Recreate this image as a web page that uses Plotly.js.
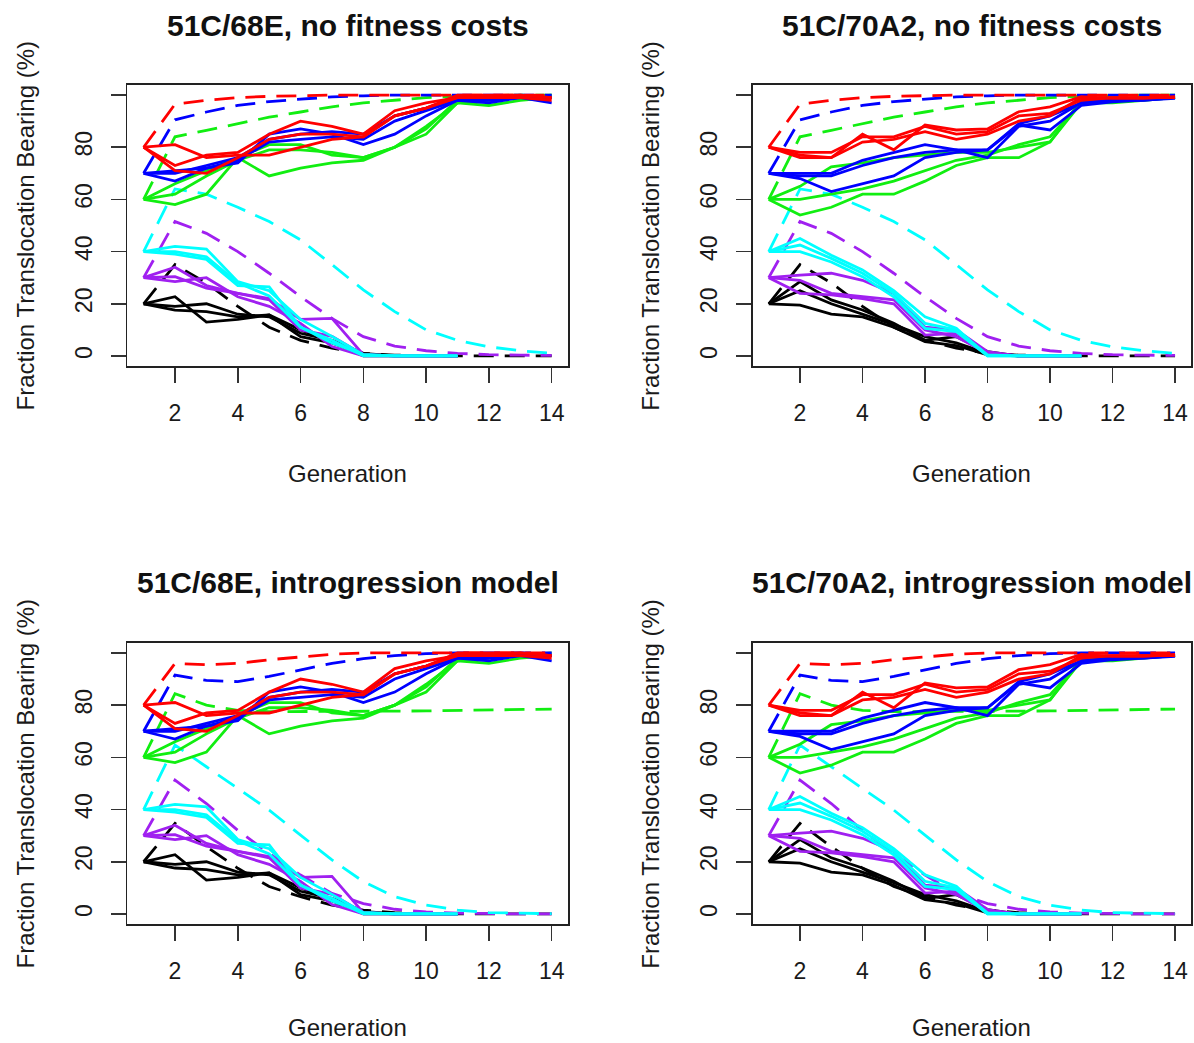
<!DOCTYPE html>
<html>
<head>
<meta charset="utf-8">
<script src="https://cdn.plot.ly/plotly-3.0.1.min.js"></script>
<style>html,body{margin:0;padding:0;background:#fff;}#chart{width:1194px;height:1043px;}</style>
</head>
<body>
<div id="chart"></div>
<script>
// ---------------- DATA ----------------
const generations = [1,2,3,4,5,6,7,8,9,10,11,12,13,14];
const genShort = [1,2,3,4,5,6,7,8,9,10,11];
const xTicks = [2,4,6,8,10,12,14];
const yTicks = [0,20,40,60,80,100];
const yTickLabels = ["0","20","40","60","80",""];
const panelTitles = ["51C/68E, no fitness costs","51C/70A2, no fitness costs","51C/68E, introgression model","51C/70A2, introgression model"];
const xLabel = "Generation";
const yLabel = "Fraction Translocation Bearing (%)";
const colorNames = ["black","purple","cyan","green","blue","red"];
const colorValues = {black:"#000000",purple:"#A020F0",cyan:"#00FFFF",green:"#11EE11",blue:"#0000FF",red:"#FF0000"};

// Experimental replicates, 51C/68E (upper series: gens 1-14; lower series: gens 1-11)
const e68_red = [
  [80,81,76,77,77,80,83,84,92,95,99,99,99,98],
  [80,73,77,78,85,90,88,85,94,97,99,99,100,99],
  [80,71,70,76,83,85,85,84,92,95,100,100,100,99]];
const e68_blue = [
  [70,67,72,74,85,87,85,81,85,92,98,97,99,97],
  [70,70,73,76,83,85,86,85,92,95,99,99,99,99],
  [70,71,72,75,82,83,84,83,90,94,98,98,99,99]];
const e68_green = [
  [60,58,62,76,69,72,74,75,80,85,97,96,98,99],
  [60,66,71,76,81,81,77,76,80,87,98,98,99,99],
  [60,62,69,75,79,79,78,76,80,88,97,98,99,100]];
const e68_cyan = [
  [40,42,41,28.5,25,14,7.5,0.5,0,0,0],
  [40,40,38,28,23,11,6,0,0,0,0],
  [40,39,37,27,26.5,11,5,0.5,0,0,0]];
const e68_purple = [
  [30,34,27,24,21.5,10,7.5,0.5,0,0,0],
  [30,28.5,30,22.7,19,12.5,3.6,0,0,0,0],
  [30,30.4,26,24,22,14,14.4,0.5,0,0,0]];
const e68_black = [
  [20,22.7,13,14,15.7,7.4,5,0.5,0,0,0],
  [20,19,20,16,15,8.7,6,1,0,0,0],
  [20,17.6,17,15,15.7,10,5.5,0,0,0,0]];

// Experimental replicates, 51C/70A2
const e70_red = [
  [80,77,76,85,79,88.5,86.6,87,93.6,95.5,99.4,98.7,98.7,99.4],
  [80,78,78,84,84,88,85,86,92,93,98,99,99,99],
  [80,76,76,82,83,86,83,85,90,92,99,99,99,99]];
const e70_blue = [
  [70,68,63,66,69,76,78,79,88.5,86.6,96,97.4,98,98.7],
  [70,70,70,75,78,81,79,79,89,92,97,98,99,99],
  [70,69,69,73,76,78,79,76,88,90,97,98,98,99]];
const e70_green = [
  [60,54,57,62,62,67,73,76,76,82,97,97,98,99],
  [60,60,62,64,67,71,75,77,81,84,97,98,99,99],
  [60,65,72.5,74,76,77,78,78,80,82,98,98,99,99]];
const e70_cyan = [
  [40,45,38.6,33,25,15,10.6,0,0,0,0],
  [40,42.5,37.4,31.7,24,12.5,10,0.4,0,0,0],
  [40,40,36,30.4,22.7,10.6,9.3,0,0,0,0]];
const e70_purple = [
  [30,31,31.7,29,24,11,10,1.7,0,0,0],
  [30,29,24,22.7,21.5,10,7.4,1,0,0,0],
  [30,24,23.4,22,20,8,8.7,1,0,0,0]];
const e70_black = [
  [20,28.5,21.5,17.6,12.5,6,7.4,1.7,0,0,0],
  [20,25,20,16,12,7.4,5,1,0,0,0],
  [20,19.5,16,15,11,5.5,4,0.4,0,0,0]];

// Model predictions, no fitness costs
const nc_red    = [80,96.5,98,99,99.5,99.8,100,100,100,100,100,100,100,100];
const nc_blue   = [70,90.5,93.5,96,97.5,98.5,99.3,99.7,100,100,100,100,100,100];
const nc_green  = [60,84,86.5,89,91.5,93.5,95.5,97,98,99,99.5,99.8,100,100];
const nc_cyan   = [40,64,62,57,51.5,44.5,35,25.3,17,10,6,3.5,2,1];
const nc_purple = [30,51.5,47,40,31.7,22.7,14.4,7.4,3.8,2,1,0.5,0.3,0.2];
const nc_black  = [20,35,28,19,11,6,3,1,0.3,0.1,0,0,0,0];

// Model predictions, introgression model
const im_red    = [80,96,95.5,96,97.4,98.5,99.5,100,100,100,100,100,100,100];
const im_blue   = [70,91.5,89.5,89,91,93.4,96,97.8,99,99.7,100,100,100,100];
const im_green  = [60,84.4,80,78,77.5,77.5,77.5,77.5,77.7,77.8,78,78.2,78.3,78.5];
const im_cyan   = [40,64.7,56.4,48,39.8,30.2,20.7,12.4,6.6,3.4,1.5,0.5,0.2,0.1];
const im_purple = [30,51.3,42.3,32,23.2,14.9,7.9,4,1.8,0.8,0.3,0.1,0,0];
const im_black  = [20,34.7,25.8,17.5,10.5,6.6,3.4,1.5,0.5,0.2,0,0,0,0];

// ---------------- BUILD ----------------
const exp68 = {black:e68_black,purple:e68_purple,cyan:e68_cyan,green:e68_green,blue:e68_blue,red:e68_red};
const exp70 = {black:e70_black,purple:e70_purple,cyan:e70_cyan,green:e70_green,blue:e70_blue,red:e70_red};
const modNC = {black:nc_black,purple:nc_purple,cyan:nc_cyan,green:nc_green,blue:nc_blue,red:nc_red};
const modIM = {black:im_black,purple:im_purple,cyan:im_cyan,green:im_green,blue:im_blue,red:im_red};
const panels = [
  {exp:exp68, mod:modNC},
  {exp:exp70, mod:modNC},
  {exp:exp68, mod:modIM},
  {exp:exp70, mod:modIM}];

const FONT = "Liberation Sans, Arial, Helvetica, sans-serif";
const W = 1194, H = 1043;
// pixel boxes of the four plot regions [left,right,top,bottom]
const boxes = [
  [127.3,568.0,84.6,366.4],
  [752.5,1191.3,84.6,366.4],
  [127.3,568.0,642.5,924.4],
  [752.5,1191.3,642.5,924.4]];

const traces = [];
const layout = {
  width: W, height: H,
  margin: {l:0,r:0,t:0,b:0},
  paper_bgcolor: "#ffffff", plot_bgcolor: "#ffffff",
  showlegend: false,
  font: {family: FONT, color: "#1a1a1a"},
  annotations: []
};

panels.forEach((p, i) => {
  const n = i === 0 ? "" : String(i + 1);
  const xa = "x" + n, ya = "y" + n;
  colorNames.forEach(c => {
    p.exp[c].forEach(rep => {
      traces.push({
        x: rep.length === 14 ? generations : genShort, y: rep,
        xaxis: xa, yaxis: ya, type: "scatter", mode: "lines",
        line: {color: colorValues[c], width: 2.8}, hoverinfo: "skip"
      });
    });
    traces.push({
      x: generations, y: p.mod[c],
      xaxis: xa, yaxis: ya, type: "scatter", mode: "lines",
      line: {color: colorValues[c], width: 2.8, dash: "20px,11px"}, hoverinfo: "skip"
    });
  });
  const b = boxes[i];
  const axBase = {
    showline: true, mirror: true, linecolor: "#222", linewidth: 1.6,
    ticks: "outside", ticklen: 15, tickwidth: 1.6, tickcolor: "#333",
    showgrid: false, zeroline: false, fixedrange: true,
    tickfont: {family: FONT, size: 23, color: "#1a1a1a"}
  };
  layout["xaxis" + n] = Object.assign({}, axBase, {
    domain: [b[0]/W, b[1]/W], range: [0.48, 14.52], anchor: ya,
    tickmode: "array", tickvals: xTicks, ticktext: xTicks.map(String),
    ticklabelstandoff: 10
  });
  layout["yaxis" + n] = Object.assign({}, axBase, {
    domain: [1 - b[3]/H, 1 - b[2]/H], range: [-4, 104], anchor: xa,
    tickmode: "array", tickvals: yTicks, ticktext: yTickLabels,
    tickangle: -90, ticklabelstandoff: 10
  });
  const cx = (b[0] + b[1]) / 2, cy = (b[2] + b[3]) / 2;
  layout.annotations.push({
    xref: "paper", yref: "paper", x: cx/W, y: 1 - (b[2] - 59.6)/H,
    xanchor: "center", yanchor: "middle", showarrow: false,
    text: "<b>" + panelTitles[i] + "</b>",
    font: {family: FONT, size: 30, color: "#111"}
  });
  layout.annotations.push({
    xref: "paper", yref: "paper", x: cx/W, y: 1 - Math.min(b[3] + 107, 1027)/H,
    xanchor: "center", yanchor: "middle", showarrow: false,
    text: xLabel, font: {family: FONT, size: 24, color: "#1a1a1a"}
  });
  layout.annotations.push({
    xref: "paper", yref: "paper", x: (b[0] - 102.3)/W, y: 1 - cy/H,
    xanchor: "center", yanchor: "middle", showarrow: false, textangle: -90,
    text: yLabel, font: {family: FONT, size: 24, color: "#1a1a1a"}
  });
});

Plotly.newPlot("chart", traces, layout, {staticPlot: true, displayModeBar: false});
</script>
</body>
</html>
